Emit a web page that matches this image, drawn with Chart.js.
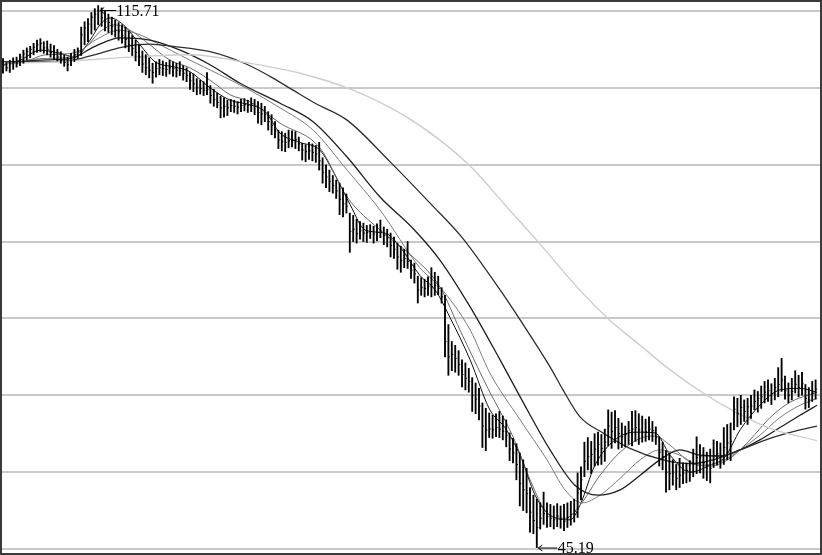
<!DOCTYPE html>
<html lang="zh">
<head>
  <meta charset="UTF-8">
  <title>K线图</title>
  <script src="https://cdn.jsdelivr.net/npm/chart.js"></script>
  <style>
    body { margin: 0; background: #fff; }
    #wrap { width: 822px; height: 555px; }
  </style>
</head>
<body>
  <div id="wrap"><canvas id="kline" width="822" height="555"></canvas></div>

  <script>
    // 日线数据：最高、最低、收盘
    const highs = [
      108.8,108.3,108.6,108.9,109.0,109.4,109.9,110.2,110.4,110.8,
      111.2,111.4,111.0,111.1,110.7,110.5,110.0,109.7,109.3,109.0,
      109.5,110.0,110.2,112.9,113.6,114.0,114.8,115.3,115.71,115.4,
      115.0,114.6,114.2,113.8,113.5,113.2,112.9,112.4,111.8,111.2,
      110.6,109.8,109.3,108.9,108.2,108.4,108.7,108.5,108.3,108.6,
      108.4,108.2,108.4,107.9,107.6,107.0,106.8,106.2,106.0,105.8,
      107.0,105.3,104.8,104.3,103.9,103.7,103.4,103.5,103.4,103.2,
      103.5,103.6,103.4,103.7,103.5,103.2,103.0,102.6,101.9,101.5,
      100.6,99.5,99.3,99.1,99.5,99.4,99.3,98.6,97.8,97.6,
      97.9,97.7,97.5,97.9,95.9,95.0,94.3,93.6,93.0,92.6,
      92.0,91.2,88.7,88.4,87.9,87.6,87.4,87.1,87.2,87.0,
      87.3,87.8,86.9,86.6,86.1,85.6,84.8,84.4,84.0,85.0,
      82.6,82.2,80.5,80.3,80.1,80.4,81.6,81.0,80.5,79.0,
      78.0,74.2,72.0,71.5,70.8,69.6,69.2,68.5,67.3,66.6,
      65.9,64.0,63.3,62.7,62.4,62.6,62.9,62.3,61.8,60.1,
      59.4,58.7,57.5,56.6,55.5,53.0,52.0,51.5,51.0,52.4,
      51.0,50.8,50.6,50.9,50.6,50.8,51.0,51.2,51.5,54.9,
      55.7,58.9,59.5,59.0,60.0,60.2,59.9,60.6,63.1,62.8,
      63.0,62.0,61.4,61.0,61.6,62.9,63.0,62.6,62.3,61.9,
      62.2,61.6,60.9,59.6,58.9,57.8,57.5,56.6,56.0,56.8,
      56.2,56.2,56.5,58.0,59.6,58.6,58.2,57.6,58.0,59.2,
      59.0,58.8,60.8,61.2,61.4,64.8,64.6,65.0,64.4,64.6,
      65.0,65.7,65.5,66.2,66.8,67.0,66.5,67.2,68.6,69.8,
      67.5,66.6,67.2,68.2,67.6,68.0,66.4,66.0,66.8,67.0
    ];
    const lows = [
      106.9,107.2,107.0,107.4,107.7,107.9,108.2,108.6,108.9,109.3,
      109.6,109.7,109.5,109.3,109.0,108.7,108.5,108.2,107.8,107.2,
      107.9,108.4,108.8,109.2,110.6,111.0,112.0,112.5,113.2,113.0,
      112.4,112.2,111.9,111.6,111.2,110.8,110.2,109.7,109.2,108.5,
      107.9,107.0,106.7,106.3,105.6,106.4,106.7,106.6,106.5,106.8,
      106.5,106.4,106.6,106.0,105.8,104.8,104.5,104.1,104.2,104.0,
      104.1,103.0,102.6,102.4,101.1,101.2,101.4,101.9,101.8,101.6,
      101.9,102.0,101.8,101.9,101.5,100.4,100.2,100.6,99.5,98.9,
      98.5,97.1,96.8,96.7,97.2,97.3,97.1,96.8,95.6,95.4,
      95.7,95.5,95.3,94.3,92.6,92.0,91.5,91.3,90.6,88.5,
      88.2,88.7,83.6,85.0,84.8,85.3,85.0,84.9,85.4,84.8,
      85.1,85.5,84.6,84.3,83.0,82.8,81.4,81.0,81.6,81.5,
      80.2,79.6,77.0,78.0,77.8,78.0,77.8,78.0,78.1,77.0,
      70.0,67.6,68.2,68.0,67.6,66.1,65.7,65.4,62.9,62.6,
      61.8,58.2,57.8,59.5,59.4,59.6,59.5,59.2,58.3,56.5,
      56.2,54.0,50.6,50.0,49.7,47.2,47.0,45.19,47.6,48.2,
      47.8,47.9,47.6,47.9,47.7,47.4,47.8,48.1,48.5,49.1,
      51.4,54.4,55.3,54.8,55.8,55.9,56.0,56.4,58.4,58.1,
      58.8,58.0,58.2,58.3,58.6,58.4,59.0,58.6,58.9,59.0,
      59.2,59.0,58.6,55.8,55.3,52.4,52.7,53.3,52.7,53.0,
      53.5,53.6,53.8,54.4,54.8,54.9,54.2,53.9,53.6,55.6,
      55.9,55.5,56.0,56.6,56.5,60.5,60.9,61.2,61.6,61.2,
      62.0,63.1,62.8,63.3,64.0,64.2,63.8,64.4,64.8,65.5,
      64.5,64.0,64.4,65.3,64.8,65.0,63.2,63.4,64.2,64.5
    ];
    const closes = [
      107.9,107.6,108.1,108.3,108.2,109.0,109.4,109.7,110.0,110.3,
      110.6,110.8,110.2,110.0,109.6,109.4,109.0,108.6,108.3,108.0,
      108.6,109.3,109.8,111.9,112.8,113.3,114.2,114.6,115.0,114.1,
      113.6,113.5,113.0,112.5,112.3,111.8,111.3,110.6,110.1,109.6,
      109.0,108.1,107.6,107.3,107.0,107.5,107.6,107.5,107.4,107.6,
      107.5,107.3,107.2,106.9,106.6,105.9,105.5,105.0,104.9,104.7,
      104.8,104.0,103.5,103.1,102.4,102.6,102.4,102.7,102.6,102.5,
      102.7,102.8,102.7,102.9,102.6,101.8,101.6,101.5,100.6,100.1,
      99.4,98.2,98.0,97.9,98.1,98.2,98.3,97.7,96.9,96.7,
      96.8,96.6,96.4,95.5,94.0,93.4,92.8,92.3,91.6,90.5,
      89.9,89.6,86.3,86.6,86.0,86.4,86.1,86.2,86.3,86.0,
      86.2,86.4,85.8,85.5,84.5,84.0,83.0,82.5,82.8,82.4,
      81.3,80.8,78.7,79.0,78.9,79.2,79.1,79.3,78.9,77.8,
      72.0,70.0,70.3,69.8,69.0,67.7,67.2,66.8,65.0,64.5,
      63.6,61.0,60.5,60.6,60.5,60.8,60.6,60.3,59.8,58.0,
      57.5,56.0,53.5,52.7,52.2,49.8,48.7,47.8,49.0,49.6,
      49.2,49.0,48.8,49.3,48.9,48.6,49.1,49.5,49.9,52.3,
      54.0,56.4,57.0,57.3,58.0,58.6,58.1,58.9,61.0,60.3,
      60.8,60.0,59.6,59.9,60.4,60.6,60.8,60.5,60.2,60.3,
      60.6,60.4,59.5,57.6,57.0,55.0,54.8,55.0,54.2,54.6,
      54.9,55.2,55.0,56.1,56.9,57.0,56.2,55.8,55.5,57.2,
      57.4,57.0,58.2,58.8,59.0,63.2,62.6,63.4,62.9,63.5,
      63.6,64.2,64.6,64.8,65.4,65.6,65.2,66.0,66.4,67.0,
      65.6,65.0,65.5,66.4,66.0,66.5,64.6,64.4,65.3,65.8
    ];

    // 均线（按图读取的采样点：[序号, 价格]）
    const ma5 = [
      [0,108.1],[5.0,108.6],[10.9,109.9],[16.8,109.5],[21.2,109.0],[25.6,111.2],[28.5,113.2],
      [31.5,114.1],[35.9,113.0],[40.3,110.6],[44.7,108.4],[50.6,107.7],[55.0,107.1],[60.9,105.0],
      [66.8,103.4],[72.6,102.8],[77.1,101.9],[81.5,99.1],[87.4,97.9],[93.2,96.9],[97.6,93.7],
      [102.1,89.8],[106.5,86.5],[112.4,86.1],[116.8,84.3],[122.6,80.6],[127.1,78.7],[131.5,75.1],
      [137.4,69.6],[143.2,63.1],[147.6,60.8],[152.1,57.2],[156.5,52.0],[160.9,49.4],[166.8,48.8],
      [169.7,50.7],[174.1,55.9],[180.0,59.2],[185.9,60.2],[191.8,60.1],[196.2,57.2],[202.1,55.0],
      [207.9,55.9],[212.4,57.0],[216.8,60.5],[222.6,63.7],[228.5,65.7],[234.4,65.9],[239.4,65.4]
    ];
    const ma10 = [
      [0,108.1],[6.5,108.4],[12.4,109.3],[18.2,109.4],[24.1,110.2],[28.5,112.3],[32.9,113.2],
      [37.4,112.5],[43.2,110.6],[49.1,108.6],[55.0,107.6],[60.9,106.0],[66.8,104.1],[72.6,103.2],
      [81.5,100.4],[93.2,97.2],[101.2,90.8],[110.9,86.5],[120.6,83.0],[128.5,79.1],[134.4,73.5],
      [142.4,66.1],[150.0,59.6],[155.9,53.1],[160.0,49.7],[165.3,49.0],[169.7,50.7],[175.6,54.6],
      [181.5,57.6],[187.4,59.4],[191.8,59.7],[196.2,58.5],[202.1,56.3],[207.9,55.8],[213.8,56.8],
      [219.7,59.2],[225.6,62.1],[231.5,64.1],[239.4,65.4]
    ];
    const ma20 = [
      [0,108.1],[10.9,108.8],[19.7,109.0],[27.1,111.2],[34.4,112.5],[40.3,111.9],[46.2,110.6],
      [55.0,108.6],[63.8,106.7],[72.6,104.7],[81.5,102.4],[91.2,99.5],[101.2,94.3],[110.9,89.1],
      [122.6,81.6],[128.5,79.1],[137.4,73.5],[143.2,67.9],[152.1,61.8],[160.0,56.6],[165.3,52.7],
      [170.3,51.0],[175.6,52.0],[181.5,54.2],[187.4,56.6],[193.2,57.9],[199.1,57.2],[205.0,55.9],
      [210.9,56.3],[216.8,57.9],[222.6,59.8],[228.5,62.1],[234.4,63.7],[239.4,64.6]
    ];
    const ma30 = [
      [0,108.1],[10.9,108.6],[19.7,108.8],[27.1,110.4],[34.4,111.5],[43.2,111.2],[52.1,109.9],
      [60.9,108.0],[69.7,105.6],[81.5,103.0],[91.2,100.6],[101.2,96.0],[110.9,90.8],[120.6,86.7],
      [128.5,82.6],[137.4,76.5],[146.2,69.6],[152.1,64.8],[160.9,57.9],[168.2,53.3],[175.0,52.0],
      [181.5,52.7],[187.4,54.6],[193.2,56.6],[199.1,57.9],[205.0,57.2],[210.9,57.1],[216.8,57.9],
      [222.6,59.2],[228.5,60.8],[234.4,62.4],[239.4,63.7]
    ];
    const ma60 = [
      [0,108.4],[11.8,108.4],[20.6,108.6],[28.5,109.5],[36.2,110.4],[43.2,110.7],[50.0,110.4],
      [60.9,109.7],[71.5,108.1],[78.5,106.5],[85.3,104.7],[91.8,103.0],[101.2,100.8],[113.8,95.4],
      [125.6,90.0],[134.7,85.7],[146.2,78.7],[152.1,74.8],[160.9,68.7],[164.7,65.7],
      [169.7,62.2],[176.5,60.1],[184.4,58.1],[194.1,56.6],[202.1,56.1],[208.8,56.6],[216.8,57.9],
      [225.6,59.4],[234.4,60.5],[239.4,61.0]
    ];
    const ma120 = [
      [0,108.2],[16.8,108.4],[37.4,109.0],[55.0,109.3],[72.6,108.2],[87.4,106.9],[102.9,104.7],
      [116.8,101.7],[128.5,98.2],[137.9,94.6],[147.6,89.8],[157.9,84.7],[168.2,79.4],[177.9,75.0],
      [187.4,71.5],[196.2,68.3],[205.9,65.3],[215.9,62.7],[225.6,60.7],[239.4,59.1]
    ];

    // 水平网格线所在价位
    const gridValues = [45, 55, 65, 75, 85, 95, 105, 115];

    const toPts = arr => arr.map(p => ({ x: p[0], y: p[1] }));
    const maLine = (arr, color, width) => ({
      type: 'line',
      data: toPts(arr),
      borderColor: color,
      borderWidth: width,
      pointRadius: 0,
      fill: false,
      cubicInterpolationMode: 'monotone',
      order: 2
    });

    // 背景网格 + 边框 + 最高最低标注
    const chartDecor = {
      id: 'chartDecor',
      beforeDatasetsDraw(chart) {
        const { ctx, scales: { y }, width } = chart;
        ctx.save();
        ctx.strokeStyle = '#c9c9c9';
        ctx.lineWidth = 2;
        gridValues.forEach(v => {
          const py = Math.round(y.getPixelForValue(v));
          ctx.beginPath();
          ctx.moveTo(0, py);
          ctx.lineTo(width, py);
          ctx.stroke();
        });
        ctx.restore();
      },
      afterDraw(chart) {
        const { ctx, scales: { x, y }, width, height } = chart;
        const hiVal = Math.max(...highs);
        const loVal = Math.min(...lows);
        const hiIdx = highs.indexOf(hiVal);
        const loIdx = lows.indexOf(loVal);
        ctx.save();
        ctx.strokeStyle = '#000';
        ctx.fillStyle = '#000';
        ctx.lineWidth = 1;
        ctx.font = '16px "Liberation Serif", serif';
        ctx.textBaseline = 'middle';

        const arrow = (ax, ay, len) => {
          ctx.beginPath();
          ctx.moveTo(ax, ay);
          ctx.lineTo(ax + len, ay);
          ctx.moveTo(ax, ay);
          ctx.lineTo(ax + 4, ay - 3);
          ctx.moveTo(ax, ay);
          ctx.lineTo(ax + 4, ay + 3);
          ctx.stroke();
        };

        const hx = x.getPixelForValue(hiIdx), hy = y.getPixelForValue(hiVal);
        arrow(hx + 2, hy + 5, 16);
        ctx.fillText(hiVal.toFixed(2), hx + 18, hy + 6);

        const lx = x.getPixelForValue(loIdx), ly = y.getPixelForValue(loVal);
        arrow(lx + 1.5, ly + 0.5, 19);
        ctx.fillText(loVal.toFixed(2), lx + 21, ly + 1);

        ctx.strokeStyle = '#3a3a3a';
        ctx.lineWidth = 2;
        ctx.strokeRect(1, 1, width - 2, height - 2);
        ctx.restore();
      }
    };

    new Chart(document.getElementById('kline'), {
      type: 'bar',
      data: {
        datasets: [
          {
            type: 'bar',
            data: highs.map((h, i) => ({ x: i, y: [lows[i], h] })),
            backgroundColor: '#000',
            barThickness: 1.2,
            order: 0
          },
          {
            type: 'line',
            data: closes.map((c, i) => ({ x: i, y: c })),
            showLine: false,
            pointStyle: 'dash',
            pointRadius: 1.5,
            borderColor: '#000',
            borderWidth: 1,
            order: 0
          },
          maLine(ma120, '#cdcdcd', 1.4),
          maLine(ma60, '#2e2e2e', 1.3),
          maLine(ma30, '#1e1e1e', 1.3),
          maLine(ma20, '#7c7c7c', 1),
          maLine(ma10, '#6a6a6a', 1),
          maLine(ma5, '#111', 1)
        ]
      },
      options: {
        responsive: false,
        animation: false,
        devicePixelRatio: 1,
        layout: { padding: 0, autoPadding: false },
        plugins: { legend: { display: false }, tooltip: { enabled: false } },
        scales: {
          x: { type: 'linear', min: -0.88, max: 240.88, offset: false, display: false },
          y: { min: 44.22, max: 116.43, display: false }
        }
      },
      plugins: [chartDecor]
    });
  </script>
</body>
</html>
